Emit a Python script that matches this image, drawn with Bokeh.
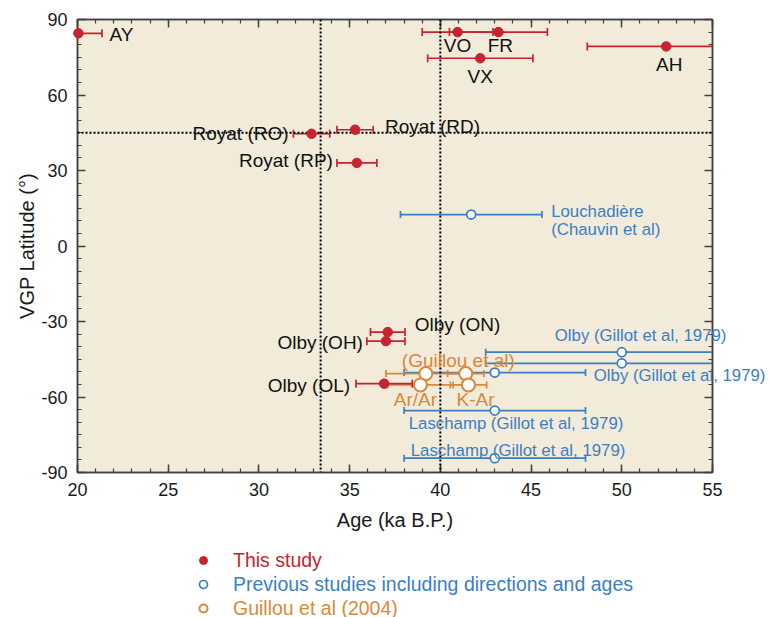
import numpy as np
from bokeh.plotting import figure
from bokeh.layouts import column
from bokeh.models import (ColumnDataSource, Span, FixedTicker, LinearAxis, Legend, LegendItem,
                          Range1d, CustomJSTickFormatter)
from bokeh.core.properties import value
from bokeh.embed import file_html
from bokeh.resources import INLINE

# ---------------- data ----------------
# This study (red, filled)
red_names = ["AY", "VO", "FR", "VX", "AH", "Royat (RO)", "Royat (RD)", "Royat (RP)",
             "Olby (ON)", "Olby (OH)", "Olby (OL)"]
red_age = [20.05, 40.95, 43.2, 42.2, 52.45, 32.9, 35.3, 35.4, 37.1, 37.0, 36.9]
red_err = [1.3, 1.95, 2.7, 2.9, 4.35, 1.0, 1.0, 1.1, 0.95, 1.05, 1.55]
red_lat = [84.5, 85.0, 85.0, 74.6, 79.3, 44.6, 46.2, 33.0, -34.2, -37.8, -54.7]

# Previous studies (blue, open)
blue_age = [41.7, 50.0, 50.0, 43.0, 43.0, 43.0]
blue_err = [3.9, 7.5, 7.5, 5.0, 5.0, 5.0]
blue_lat = [12.5, -42.2, -46.6, -50.3, -65.4, -84.3]
blue_label_idx = [0, 0, 1, 3, 4, 5]
blue_label_text = ["Louchadière", "(Chauvin et al)", "Olby (Gillot et al, 1979)",
                   "Olby (Gillot et al, 1979)", "Laschamp (Gillot et al, 1979)",
                   "Laschamp (Gillot et al, 1979)"]

# Guillou et al (2004) (orange, open)
orange_age = [39.2, 41.4, 38.9, 41.55]
orange_err = [2.2, 1.0, 1.8, 1.0]
orange_lat = [-50.7, -50.7, -55.2, -55.2]
orange_label_idx = [0, 2, 3]
orange_label_text = ["(Guillou et al)", "Ar/Ar", "K-Ar"]

# reference lines
vline_ages = [33.4, 40.0]
hline_lats = [45.0]

x_ticks = [20, 25, 30, 35, 40, 45, 50, 55]
y_ticks = [-90, -60, -30, 0, 30, 60, 90]
x_minor = list(range(20, 56))
y_minor = list(range(-90, 91, 5))

legend_labels = ["This study", "Previous studies including directions and ages",
                 "Guillou et al (2004)"]

# ---------------- styles ----------------
FONT = "Liberation Sans"
RED = "#C8232E"
BLUE = "#3B7EC2"
ORANGE = "#DB8838"
FRAME = "#404040"

# label offsets in pixels (x right, y down) and alignment
red_dx = [31, 0, 2, 0, 3, -23, 30, -24, 27, -23, -34]
red_dy = [1, 13, 13, 18, 18, 0, -3, -2, -8, 1, 2]
red_align = ["left", "center", "center", "center", "center", "right", "left", "right",
             "left", "right", "right"]
blue_dx = [80, 80, -67, 99, -86, -84]
blue_dy = [-3, 15, -17, 3, 13, -8]
orange_dx = [-24, -5, 7]
orange_dy = [-13, 15, 15]
orange_align = ["left", "center", "center"]

W, H_MAIN, H_LEG = 771, 545, 72
p = figure(width=W, height=H_MAIN, x_range=Range1d(20, 55), y_range=Range1d(-90, 90),
           output_backend="svg", toolbar_location=None,
           min_border_left=77, min_border_right=W - 712, min_border_top=19,
           min_border_bottom=H_MAIN - 472,
           background_fill_color="#F2EBDA", border_fill_color="white")
p.grid.visible = False
p.outline_line_color = FRAME
p.outline_line_width = 1.5

fmt = CustomJSTickFormatter(code="return String(tick);")
blank = CustomJSTickFormatter(code="return '';")

def style_axis(ax, labels=True):
    ax.major_tick_in = 8
    ax.major_tick_out = 0
    ax.minor_tick_in = 4
    ax.minor_tick_out = 0
    ax.axis_line_color = FRAME
    ax.axis_line_width = 1.5
    ax.major_tick_line_color = FRAME
    ax.major_tick_line_width = 1.5
    ax.minor_tick_line_color = FRAME
    ax.minor_tick_line_width = 1.2
    ax.major_label_text_font = FONT
    ax.major_label_text_color = "#1a1a1a"
    ax.axis_label_text_font = FONT
    ax.axis_label_text_font_style = "normal"
    ax.axis_label_text_color = "#1a1a1a"
    if labels:
        ax.formatter = fmt
        ax.major_label_text_font_size = "18px"
        ax.axis_label_text_font_size = "20px"
        ax.major_label_standoff = 10
    else:
        ax.formatter = blank
        ax.major_label_text_font_size = "1px"
        ax.major_label_standoff = 0

p.xaxis.ticker = FixedTicker(ticks=x_ticks, minor_ticks=x_minor)
p.yaxis.ticker = FixedTicker(ticks=y_ticks, minor_ticks=y_minor)
p.xaxis.axis_label = "Age (ka B.P.)"
p.yaxis.axis_label = "VGP Latitude (°)"
style_axis(p.xaxis[0])
style_axis(p.yaxis[0])
p.xaxis.axis_label_standoff = 10
p.yaxis.axis_label_standoff = 0

top_ax = LinearAxis(ticker=FixedTicker(ticks=x_ticks, minor_ticks=x_minor))
right_ax = LinearAxis(ticker=FixedTicker(ticks=y_ticks, minor_ticks=y_minor))
style_axis(top_ax, labels=False)
style_axis(right_ax, labels=False)
p.add_layout(top_ax, "above")
p.add_layout(right_ax, "right")

# reference lines
for a in vline_ages:
    p.add_layout(Span(location=a, dimension="height", line_color="black",
                      line_width=2, line_dash="2 2"))
for l in hline_lats:
    p.add_layout(Span(location=l, dimension="width", line_color="black",
                      line_width=2, line_dash="2 2"))

def make_src(age, err, lat):
    age = np.array(age); err = np.array(err); lat = np.array(lat)
    return ColumnDataSource(dict(age=age, lat=lat, lo=age - err, hi=age + err))

def errorbars(src, color, lw=1.7, cap=8):
    p.segment(x0="lo", x1="hi", y0="lat", y1="lat", source=src, line_color=color, line_width=lw)
    for c in ("lo", "hi"):
        p.scatter(x=c, y="lat", source=src, marker="dash", angle=np.pi / 2, size=cap,
                  line_color=color, line_width=lw)

blue_src = make_src(blue_age, blue_err, blue_lat)
orange_src = make_src(orange_age, orange_err, orange_lat)
red_src = make_src(red_age, red_err, red_lat)

errorbars(blue_src, BLUE, cap=7)
errorbars(orange_src, ORANGE, cap=7)
errorbars(red_src, RED, cap=8)

blue_style = dict(size=9, fill_color="white", line_color=BLUE, line_width=1.7)
orange_style = dict(size=13, fill_color="white", line_color=ORANGE, line_width=2)
red_style = dict(size=9.5, fill_color=RED, line_color=RED)

p.scatter(x="age", y="lat", source=blue_src, **blue_style)
p.scatter(x="age", y="lat", source=orange_src, **orange_style)
p.scatter(x="age", y="lat", source=red_src, level="overlay", **red_style)

# labels (text glyphs at overlay level so they may run past the frame)
red_lab = ColumnDataSource(dict(x=red_age, y=red_lat, text=red_names, dx=red_dx, dy=red_dy,
                                align=red_align))
p.text(x="x", y="y", text="text", x_offset="dx", y_offset="dy", source=red_lab,
       text_align="align", text_baseline="middle", text_font=value(FONT),
       text_font_size=value("19px"), text_color="#111111", level="overlay")

blue_lab = ColumnDataSource(dict(x=[blue_age[i] for i in blue_label_idx],
                                 y=[blue_lat[i] for i in blue_label_idx],
                                 text=blue_label_text, dx=blue_dx, dy=blue_dy))
p.text(x="x", y="y", text="text", x_offset="dx", y_offset="dy", source=blue_lab,
       text_align="left", text_baseline="middle", text_font=value(FONT),
       text_font_size=value("16.8px"), text_color=BLUE, level="overlay")

orange_lab = ColumnDataSource(dict(x=[orange_age[i] for i in orange_label_idx],
                                   y=[orange_lat[i] for i in orange_label_idx],
                                   text=orange_label_text, dx=orange_dx, dy=orange_dy,
                                   align=orange_align))
p.text(x="x", y="y", text="text", x_offset="dx", y_offset="dy", source=orange_lab,
       text_align="align", text_baseline="middle", text_font=value(FONT),
       text_font_size=value("19px"), text_color=ORANGE, level="overlay")

# legend strip below the chart (one legend per entry so each label keeps its own colour)
lf = figure(width=W, height=H_LEG, x_range=Range1d(0, 1), y_range=Range1d(0, 1),
            output_backend="svg", toolbar_location=None, x_axis_type=None, y_axis_type=None,
            min_border=0, outline_line_color=None, background_fill_color="white",
            border_fill_color="white")
lf.grid.visible = False
leg_r = [lf.scatter(x="age", y="lat", source=red_src, visible=False, **red_style),
         lf.scatter(x="age", y="lat", source=blue_src, visible=False, **blue_style),
         lf.scatter(x="age", y="lat", source=orange_src, visible=False, **orange_style)]
leg_y = [45, 21, -3]
for lab, r, col, ly in zip(legend_labels, leg_r, [RED, BLUE, ORANGE], leg_y):
    lg = Legend(items=[LegendItem(label=lab, renderers=[r], index=0)], location=(116, ly),
                orientation="vertical", padding=0, margin=0, spacing=0,
                glyph_width=20, glyph_height=24, label_height=24, label_standoff=20,
                label_text_font=FONT, label_text_font_size="19.5px", label_text_color=col,
                border_line_color=None, background_fill_alpha=0,
                inactive_fill_alpha=0, click_policy="none")
    lf.add_layout(lg, "center")

layout = column(p, lf, spacing=0)
open("out.html", "w").write(file_html(layout, INLINE))
